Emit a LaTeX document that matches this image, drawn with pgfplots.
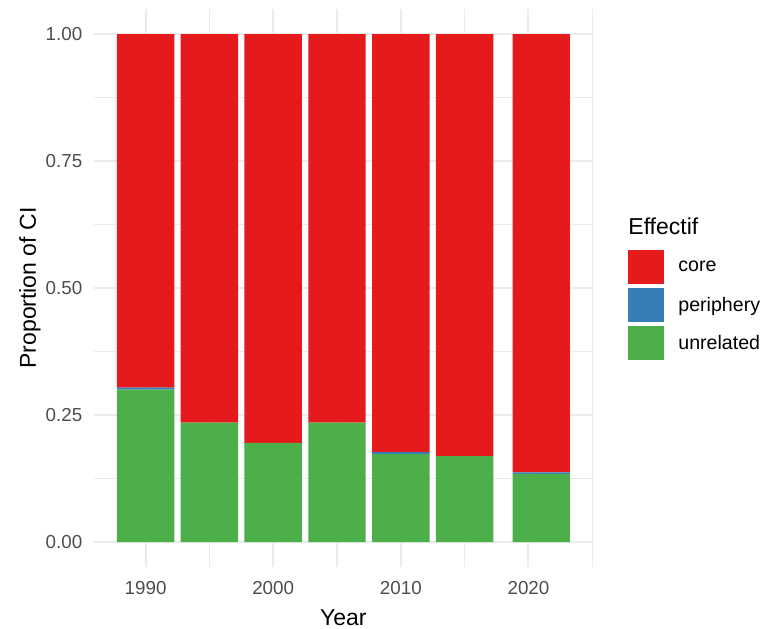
\documentclass[border=0pt]{standalone}
\usepackage{pgfplots}
\pgfplotsset{compat=1.18}
\usepackage{fontspec}
\setmainfont{Liberation Sans}
\definecolor{corecol}{HTML}{E41A1C}
\definecolor{pericol}{HTML}{377EB8}
\definecolor{unrcol}{HTML}{4DAF4A}
\definecolor{gridcol}{HTML}{EBEBEB}
\definecolor{tickcol}{HTML}{4D4D4D}
\pgfplotsset{
  sqlegend/.style={legend image code/.code={\fill[draw=none,##1] (0pt,-8.5pt) rectangle (18pt,8.5pt);}},
  /pgfplots/ybar legend/.style={sqlegend},
}
\begin{document}
\begin{tikzpicture}
\useasboundingbox (0,0) rectangle (382.5pt,314pt);
\begin{axis}[
  at={(47.1pt,30.3pt)}, anchor=south west,
  scale only axis, width=249.2pt, height=279.4pt,
  ybar stacked, bar width=4.5,
  xmin=1985.975, xmax=2025.025, ymin=-0.05, ymax=1.05,
  xtick={1990,2000,2010,2020}, xticklabels={1990,2000,2010,2020},
  minor xtick={1995,2005,2015,2025},
  ytick={0,0.25,0.5,0.75,1}, yticklabels={0.00,0.25,0.50,0.75,1.00},
  minor ytick={0.125,0.375,0.625,0.875},
  grid=both,
  major grid style={draw=gridcol, line width=1pt},
  minor grid style={draw=gridcol, line width=0.55pt},
  axis line style={draw=none},
  major tick length=0pt, minor tick length=0pt,
  tick style={draw=none},
  xticklabel style={font=\fontsize{9.4}{11}\selectfont, text=tickcol, inner sep=0pt, anchor=north, yshift=-6.8pt},
  yticklabel style={font=\fontsize{9.4}{11}\selectfont, text=tickcol, inner sep=0pt, anchor=east, xshift=-5.75pt},
  xlabel={Year}, ylabel={Proportion of CI},
  xlabel style={at={(axis description cs:0.5,-0.1031)}, anchor=base, font=\fontsize{11.5}{13}\selectfont, inner sep=0pt},
  ylabel style={at={(axis description cs:-0.1168,0.5)}, anchor=base, font=\fontsize{11.5}{13}\selectfont, inner sep=0pt},
  legend style={at={(1.0710,0.568)}, anchor=north west, draw=none, fill=none, inner sep=0pt, row sep=2pt,
    nodes={inner sep=0pt}, font=\fontsize{9.8}{11}\selectfont,
    /tikz/every odd column/.style={column sep=7pt}},
  legend cell align=left, reverse legend,
]
\addplot[fill=unrcol, draw=none, sqlegend] coordinates {(1990,0.300) (1995,0.235) (2000,0.195) (2005,0.235) (2010,0.173) (2015,0.169) (2021,0.134)};
\addlegendentry{unrelated}
\addplot[fill=pericol, draw=none, sqlegend] coordinates {(1990,0.004) (1995,0) (2000,0) (2005,0) (2010,0.004) (2015,0) (2021,0.003)};
\addlegendentry{periphery}
\addplot[fill=corecol, draw=none, sqlegend] coordinates {(1990,0.696) (1995,0.765) (2000,0.805) (2005,0.765) (2010,0.823) (2015,0.831) (2021,0.863)};
\addlegendentry{core}
\end{axis}
\node[anchor=west, inner sep=0pt, font=\fontsize{11.5}{13}\selectfont] at (314pt,200.65pt) {Effectif};
\end{tikzpicture}
\end{document}
